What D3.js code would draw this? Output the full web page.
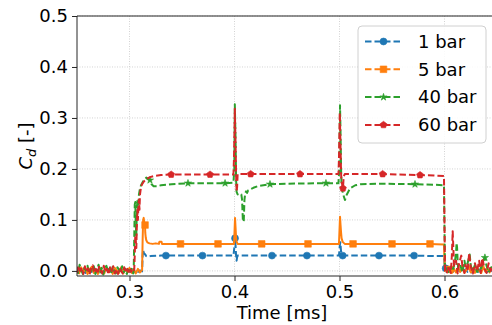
<!DOCTYPE html>
<html><head><meta charset="utf-8">
<script src="https://cdn.jsdelivr.net/npm/d3@7"></script>
<style>body{margin:0;background:#fff}svg{display:block;font-family:"DejaVu Sans",sans-serif}</style>
</head><body><svg id="c" width="492" height="325"></svg>
<script>
const seriesNames = ["1 bar","5 bar","40 bar","60 bar"];
const seriesColors = ["#1f77b4","#ff7f0e","#2ca02c","#d62728"];
const xTicks = [0.3,0.4,0.5,0.6];
const yTicks = [0.0,0.1,0.2,0.3,0.4,0.5];

const bar1 = [[0.25,0.002],[0.252,-0.003],[0.254,0.004],[0.256,0.001],[0.258,-0.004],[0.26,0.003],[0.262,0.0],[0.264,-0.002],[0.266,0.004],[0.268,-0.003],[0.27,0.002],[0.272,0.005],[0.274,-0.002],[0.276,0.001],[0.278,-0.004],[0.28,0.003],[0.282,-0.001],[0.284,0.004],[0.286,-0.003],[0.288,0.002],[0.29,-0.002],[0.292,0.003],[0.294,-0.004],[0.296,0.001],[0.298,0.003],[0.3,-0.002],[0.302,0.002],[0.304,-0.003],[0.306,0.001],[0.308,-0.002],[0.31,0.001],[0.312,-0.001],
[0.3125,0.03],[0.313,0.042],[0.3135,0.036],[0.314,0.034],[0.315,0.032],[0.316,0.029],[0.318,0.028],[0.32,0.029],[0.33,0.03],[0.3347,0.03],[0.35,0.03],[0.3695,0.03],[0.38,0.03],[0.39,0.03],[0.399,0.03],[0.3998,0.045],[0.4005,0.064],[0.401,0.05],[0.4015,0.03],[0.402,0.02],[0.4025,0.027],[0.403,0.03],[0.41,0.03],[0.4357,0.03],[0.45,0.03],[0.469,0.03],[0.49,0.03],[0.4995,0.03],[0.5003,0.05],[0.5008,0.056],[0.5015,0.038],[0.502,0.032],[0.503,0.03],[0.52,0.03],[0.5376,0.03],[0.55,0.03],[0.571,0.03],[0.59,0.029],[0.5995,0.029],[0.6,0.015],[0.6005,0.003],[0.6011,0.005],
[0.602,0.001],[0.604,-0.003],[0.606,0.002],[0.608,-0.002],[0.61,0.003],[0.612,-0.001],[0.614,0.002],[0.616,-0.003],[0.618,0.001],[0.62,0.003],[0.622,-0.002],[0.624,0.001],[0.626,-0.003],[0.628,0.002],[0.63,0.0],[0.632,-0.002],[0.634,0.003],[0.636,-0.001],[0.638,0.002],[0.64,-0.003],[0.642,0.001],[0.644,0.003],[0.646,-0.002],[0.65,0.001]];

const bar5 = [[0.25,0.004],[0.252,-0.005],[0.254,0.007],[0.256,-0.002],[0.258,0.005],[0.26,-0.006],[0.262,0.003],[0.264,0.008],[0.266,-0.004],[0.268,0.002],[0.27,-0.006],[0.272,0.006],[0.274,0.0],[0.276,-0.005],[0.278,0.007],[0.28,-0.003],[0.282,0.004],[0.284,-0.006],[0.286,0.006],[0.288,0.001],[0.29,-0.004],[0.292,0.007],[0.294,-0.005],[0.296,0.003],[0.298,-0.002],[0.3,0.006],[0.302,-0.004],[0.304,0.003],[0.306,-0.005],[0.308,0.004],[0.31,-0.003],[0.312,0.002],
[0.3125,0.06],[0.313,0.1],[0.3135,0.104],[0.314,0.095],[0.3148,0.09],[0.315,0.075],[0.3155,0.065],[0.316,0.06],[0.317,0.056],[0.319,0.054],[0.322,0.053],[0.325,0.054],[0.328,0.053],[0.3285,0.057],[0.3305,0.057],[0.331,0.053],[0.34,0.053],[0.3486,0.053],[0.36,0.053],[0.3843,0.053],[0.39,0.053],[0.3995,0.053],[0.4,0.075],[0.4005,0.104],[0.401,0.085],[0.4015,0.065],[0.402,0.057],[0.403,0.053],[0.4259,0.053],[0.45,0.053],[0.47,0.053],[0.4995,0.053],[0.5,0.08],[0.5005,0.106],[0.501,0.09],[0.5015,0.075],[0.502,0.064],[0.503,0.057],[0.505,0.053],[0.5129,0.053],[0.53,0.053],[0.55,0.053],[0.5862,0.053],[0.5995,0.052],[0.6,0.02],[0.6005,0.0],[0.6052,0.003],
[0.607,-0.004],[0.609,0.004],[0.611,-0.003],[0.613,0.006],[0.615,-0.002],[0.617,0.008],[0.619,-0.004],[0.621,0.003],[0.623,0.01],[0.625,-0.003],[0.627,0.005],[0.629,-0.004],[0.631,0.007],[0.633,0.0],[0.635,-0.004],[0.637,0.009],[0.639,-0.002],[0.641,0.004],[0.643,-0.003],[0.645,0.006],[0.65,0.0]];

const bar40 = [[0.25,0.008],[0.251,-0.004],[0.2525,0.012],[0.254,0.002],[0.2555,-0.006],[0.257,0.006],[0.2585,0.001],[0.26,0.01],[0.2615,-0.005],[0.263,0.004],[0.2645,-0.002],[0.266,0.009],[0.2675,-0.006],[0.269,0.003],[0.2705,0.012],[0.272,-0.003],[0.2735,0.006],[0.275,-0.007],[0.2765,0.004],[0.278,0.01],[0.2795,-0.002],[0.281,0.005],[0.2825,-0.006],[0.284,0.008],[0.2855,0.0],[0.287,-0.005],[0.2885,0.007],[0.29,0.002],[0.2915,-0.004],[0.293,0.009],[0.2945,-0.003],[0.296,0.004],[0.2975,-0.006],[0.299,0.006],[0.3005,-0.002],[0.302,0.004],[0.3035,-0.005],[0.304,0.002],
[0.3045,0.06],[0.305,0.13],[0.3055,0.135],[0.306,0.09],[0.3065,0.07],[0.307,0.12],[0.3075,0.14],[0.308,0.115],[0.309,0.15],[0.31,0.162],[0.311,0.168],[0.312,0.172],[0.3135,0.178],[0.315,0.18],[0.316,0.183],[0.3175,0.181],[0.3195,0.178],[0.321,0.17],[0.323,0.166],[0.326,0.166],[0.33,0.168],[0.34,0.17],[0.3557,0.172],[0.37,0.172],[0.391,0.172],[0.399,0.173],[0.3998,0.2],[0.4003,0.327],[0.401,0.26],[0.4015,0.18],[0.402,0.155],[0.403,0.15],[0.405,0.152],[0.4065,0.15],[0.4072,0.14],[0.408,0.097],[0.4088,0.097],[0.4095,0.14],[0.4102,0.152],[0.411,0.156],[0.412,0.153],[0.413,0.158],[0.415,0.16],[0.418,0.163],[0.422,0.166],[0.4338,0.17],[0.45,0.171],[0.4871,0.172],[0.499,0.172],[0.4998,0.2],[0.5005,0.325],[0.501,0.27],[0.5015,0.2],[0.502,0.165],[0.5035,0.15],[0.5052,0.139],[0.507,0.15],[0.51,0.162],[0.515,0.168],[0.52,0.17],[0.54,0.171],[0.5719,0.17],[0.59,0.169],[0.5995,0.168],[0.6,0.08],[0.6005,0.0],
[0.602,0.005],[0.604,-0.004],[0.606,0.008],[0.608,0.0],[0.61,0.02],[0.611,0.035],[0.6115,0.055],[0.612,0.045],[0.6125,0.02],[0.613,0.005],[0.615,0.012],[0.617,-0.003],[0.619,0.02],[0.62,0.008],[0.622,0.015],[0.624,0.032],[0.625,0.01],[0.627,0.0],[0.629,0.012],[0.631,-0.002],[0.633,0.008],[0.635,0.005],[0.637,0.02],[0.6385,0.026],[0.64,0.01],[0.642,-0.003],[0.644,0.006],[0.646,0.01],[0.648,0.0],[0.65,0.004]];

const bar60 = [[0.25,-0.004],[0.2515,0.01],[0.253,0.0],[0.2545,0.007],[0.256,-0.006],[0.2575,0.009],[0.259,-0.002],[0.2605,0.005],[0.262,-0.007],[0.2635,0.006],[0.265,0.011],[0.2665,-0.004],[0.268,0.004],[0.2695,-0.006],[0.271,0.008],[0.2725,0.001],[0.274,-0.005],[0.2755,0.01],[0.277,-0.002],[0.2785,0.004],[0.28,-0.007],[0.2815,0.007],[0.283,0.0],[0.2845,0.009],[0.286,-0.005],[0.2875,0.003],[0.289,-0.006],[0.2905,0.006],[0.292,0.0],[0.2935,-0.005],[0.295,0.007],[0.2965,-0.003],[0.298,0.004],[0.2995,-0.006],[0.301,0.003],[0.3025,-0.004],[0.304,0.002],[0.3045,0.002],
[0.305,0.03],[0.3055,0.07],[0.306,0.06],[0.3065,0.045],[0.307,0.09],[0.3075,0.12],[0.308,0.1],[0.3085,0.13],[0.309,0.14],[0.3095,0.12],[0.31,0.15],[0.311,0.165],[0.312,0.17],[0.3135,0.175],[0.315,0.178],[0.317,0.181],[0.3195,0.184],[0.323,0.186],[0.33,0.188],[0.3397,0.189],[0.3767,0.189],[0.399,0.189],[0.3995,0.22],[0.4003,0.318],[0.401,0.25],[0.4015,0.19],[0.402,0.155],[0.4025,0.165],[0.403,0.19],[0.405,0.19],[0.4154,0.19],[0.4624,0.19],[0.499,0.19],[0.4995,0.22],[0.5003,0.31],[0.501,0.24],[0.5015,0.19],[0.502,0.175],[0.5033,0.162],[0.504,0.185],[0.505,0.19],[0.5411,0.19],[0.5767,0.188],[0.59,0.187],[0.5995,0.186],[0.6,0.09],[0.6005,0.0],
[0.602,-0.005],[0.604,0.01],[0.606,-0.004],[0.607,0.03],[0.6078,0.078],[0.6085,0.04],[0.609,0.01],[0.611,0.02],[0.6125,-0.005],[0.614,0.015],[0.616,0.03],[0.617,0.01],[0.619,-0.004],[0.62,0.012],[0.622,0.0],[0.6235,0.035],[0.625,0.008],[0.627,-0.005],[0.629,0.015],[0.631,0.0],[0.633,0.02],[0.6345,-0.004],[0.636,0.025],[0.638,0.005],[0.64,-0.004],[0.642,0.015],[0.644,0.0],[0.646,0.01],[0.648,-0.003],[0.65,0.005]];

const markers1 = [0.3347,0.3695,0.4005,0.4357,0.469,0.503,0.5376,0.571,0.6011];
const markers5 = [0.3148,0.3486,0.3843,0.4259,0.47,0.5129,0.55,0.5862,0.6052];
const markers40 = [0.3195,0.3557,0.391,0.4338,0.4871,0.5719,0.6385];
const markers60 = [0.3397,0.3767,0.4154,0.4624,0.5033,0.5411,0.5767];

const allSeries = [bar1,bar5,bar40,bar60];
const allMarkers = [markers1,markers5,markers40,markers60];
const markerKinds = ["circle","square","star","pentagon"];
const lineDash = ["6.5,3","none","6.5,3","6.5,3"];

const svg = d3.select("#c");
const L=77,T=16,W=420,H=260;
const x = d3.scaleLinear().domain([0.25,0.65]).range([L,L+W]);
const y = d3.scaleLinear().domain([-0.01,0.5]).range([T+H,T]);

svg.append("defs").append("clipPath").attr("id","clip").append("rect").attr("x",L).attr("y",T).attr("width",W).attr("height",H);

const g = svg.append("g");
g.selectAll(".gx").data(xTicks).join("line").attr("x1",d=>x(d)).attr("x2",d=>x(d)).attr("y1",T).attr("y2",T+H)
 .attr("stroke","#c8c8c8").attr("stroke-width",0.8).attr("stroke-dasharray","1,1.5");
g.selectAll(".gy").data(yTicks).join("line").attr("y1",d=>y(d)).attr("y2",d=>y(d)).attr("x1",L).attr("x2",L+W)
 .attr("stroke","#c8c8c8").attr("stroke-width",0.8).attr("stroke-dasharray","1,1.5");

function symPath(kind){
  if(kind==="circle") return d3.symbol(d3.symbolCircle,38)();
  if(kind==="square") return d3.symbol(d3.symbolSquare,44)();
  if(kind==="star") return d3.symbol(d3.symbolStar,16)();
  const r=3.6; let p="";
  for(let i=0;i<5;i++){const a=-Math.PI/2+i*2*Math.PI/5; p+=(i?"L":"M")+(r*Math.cos(a)).toFixed(2)+","+(r*Math.sin(a)).toFixed(2);}
  return p+"Z";
}

const plot = svg.append("g").attr("clip-path","url(#clip)");
const line = d3.line().x(d=>x(d[0])).y(d=>y(d[1]));
allSeries.forEach((s,i)=>{
  const gs = plot.append("g");
  gs.append("path").attr("d",line(s)).attr("fill","none").attr("stroke",seriesColors[i])
    .attr("stroke-width",2).attr("stroke-dasharray",lineDash[i]).attr("stroke-linejoin","round");
  const pts = allMarkers[i].map(t=>d3.least(s,d=>Math.abs(d[0]-t)));
  gs.selectAll("path.m").data(pts).join("path").attr("class","m")
    .attr("transform",d=>`translate(${x(d[0])},${y(d[1])})`).attr("d",symPath(markerKinds[i]))
    .attr("fill",seriesColors[i]).attr("stroke",seriesColors[i]).attr("stroke-width",0.6);
});

svg.append("line").attr("x1",L).attr("x2",L).attr("y1",T).attr("y2",T+H).attr("stroke","#262626").attr("stroke-width",1);
svg.append("line").attr("x1",L).attr("x2",L+W).attr("y1",T+H).attr("y2",T+H).attr("stroke","#262626").attr("stroke-width",1);
svg.append("line").attr("x1",L).attr("x2",L+W).attr("y1",T).attr("y2",T).attr("stroke","#262626").attr("stroke-width",1);

const xa = svg.append("g").attr("transform",`translate(0,${T+H})`)
  .call(d3.axisBottom(x).tickValues(xTicks).tickFormat(d3.format(".1f")).tickSize(5).tickPadding(4));
const ya = svg.append("g").attr("transform",`translate(${L},0)`)
  .call(d3.axisLeft(y).tickValues(yTicks).tickFormat(d3.format(".1f")).tickSize(5).tickPadding(4));
[xa,ya].forEach(a=>{a.select(".domain").remove();a.selectAll("line").attr("stroke","#262626");
  a.selectAll("text").attr("font-size",18).attr("font-family","DejaVu Sans").attr("fill","#000");});

svg.append("text").attr("x",L+W/2-5).attr("y",319).attr("text-anchor","middle").attr("font-size",18).text("Time [ms]");
const yl = svg.append("text").attr("transform","translate(32,146) rotate(-90)").attr("text-anchor","middle").attr("font-size",18);
yl.append("tspan").attr("font-style","italic").text("C");
yl.append("tspan").attr("font-style","italic").attr("font-size",13).attr("dy",4).text("d");
yl.append("tspan").attr("dy",-4).text(" [-]");

const lg = svg.append("g");
lg.append("rect").attr("x",358).attr("y",26).attr("width",128).attr("height",117).attr("rx",4)
  .attr("fill","#fff").attr("fill-opacity",0.85).attr("stroke","#d0d0d0").attr("stroke-width",1);
seriesNames.forEach((n,i)=>{
  const yy = 41.5+i*27.8;
  lg.append("line").attr("x1",365).attr("x2",402).attr("y1",yy).attr("y2",yy).attr("stroke",seriesColors[i])
    .attr("stroke-width",2).attr("stroke-dasharray","6.5,3");
  lg.append("path").attr("transform",`translate(383.5,${yy})`).attr("d",symPath(markerKinds[i]))
    .attr("fill",seriesColors[i]).attr("stroke",seriesColors[i]).attr("stroke-width",0.6);
  lg.append("text").attr("x",418).attr("y",yy).attr("dy","0.35em").attr("font-size",18).text(n);
});
</script></body></html>
